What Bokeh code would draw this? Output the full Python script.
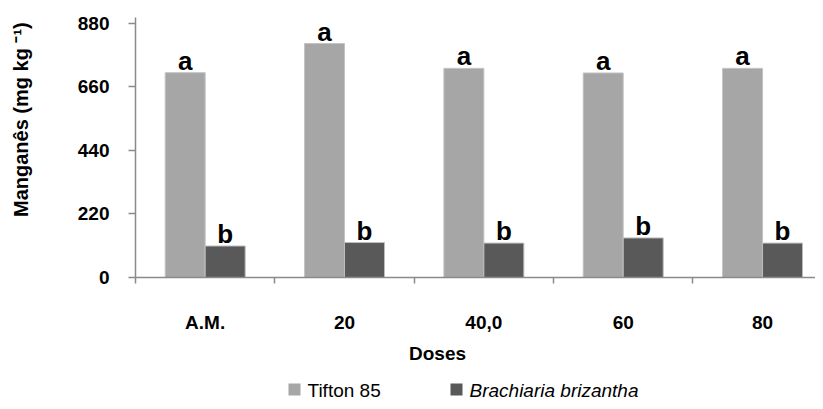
import numpy as np
from bokeh.plotting import figure
from bokeh.models import Range1d, FixedTicker, CustomJSTickFormatter
from bokeh.layouts import column, row
from bokeh.core.properties import value
from bokeh.embed import file_html
from bokeh.resources import INLINE

# ---- data ----
categories = ["A.M.", "20", "40,0", "60", "80"]
tifton = [709, 810, 724, 708, 724]
brachiaria = [109, 121, 119, 137, 119]
letters_tifton = ["a", "a", "a", "a", "a"]
letters_brach = ["b", "b", "b", "b", "b"]
y_ticks = [0, 220, 440, 660, 880]
series_names = ["Tifton 85", "Brachiaria brizantha"]
y_title = "Manganês  (mg kg ⁻¹)"
x_title = "Doses"

C_T = "#a6a6a6"
C_B = "#595959"
AX = "#8a8a8a"
FONT = "Liberation Sans"

n = len(categories)
idx = np.arange(n)
bw = 0.287
x_t = idx + 0.5 - bw / 2
x_b = idx + 0.5 + bw / 2

LEFT_W = 40
MAIN_W = 775
MAIN_H = 335
BOT_H = 66

# ---- y title strip ----
yl = figure(width=LEFT_W, height=MAIN_H, output_backend="svg", toolbar_location=None,
            x_range=Range1d(0, LEFT_W), y_range=Range1d(0, MAIN_H), min_border=0)
yl.axis.visible = False
yl.grid.visible = False
yl.outline_line_color = None
yl.text(x=[20], y=[MAIN_H - 128], text=[y_title], angle=np.pi / 2,
        text_align="center", text_baseline="middle", text_font=value(FONT),
        text_font_style="bold", text_font_size="20px", text_color="black")

# ---- main chart ----
p = figure(width=MAIN_W, height=MAIN_H, output_backend="svg", toolbar_location=None,
           x_range=Range1d(0, 4.88), y_range=Range1d(0, 900),
           min_border_left=95, min_border_right=0, min_border_top=17,
           min_border_bottom=56)
p.outline_line_color = None
p.xgrid.visible = False
p.ygrid.visible = False

p.vbar(x=x_t, top=tifton, width=bw, fill_color=C_T, line_color="#c4c4c4", line_width=1)
p.vbar(x=x_b, top=brachiaria, width=bw, fill_color=C_B, line_color="#bdbdbd", line_width=1)

p.text(x=x_t, y=tifton, text=letters_tifton, text_align="center",
       text_baseline="bottom", y_offset=3, text_font=value(FONT),
       text_font_style="bold", text_font_size="26px", text_color="black")
p.text(x=x_b, y=brachiaria, text=letters_brach, text_align="center",
       text_baseline="bottom", y_offset=3, text_font=value(FONT),
       text_font_style="bold", text_font_size="26px", text_color="black")

xa = p.xaxis[0]
xa.ticker = FixedTicker(ticks=list(idx + 0.5), minor_ticks=list(range(n + 1)))
xa.formatter = CustomJSTickFormatter(args=dict(cats=categories),
                                     code="return cats[Math.round(tick - 0.5)];")
xa.major_tick_out = 0
xa.major_tick_in = 0
xa.minor_tick_out = 6
xa.minor_tick_in = 0
xa.minor_tick_line_color = AX
xa.minor_tick_line_width = 1.5
xa.axis_line_color = AX
xa.axis_line_width = 1.5
xa.major_label_standoff = 28
xa.major_label_text_font = FONT
xa.major_label_text_font_style = "bold"
xa.major_label_text_font_size = "19px"
xa.major_label_text_color = "black"

ya = p.yaxis[0]
ya.ticker = FixedTicker(ticks=y_ticks, minor_ticks=[])
ya.major_tick_out = 7
ya.major_tick_in = 0
ya.major_tick_line_color = AX
ya.major_tick_line_width = 1.5
ya.minor_tick_line_color = None
ya.axis_line_color = AX
ya.axis_line_width = 1.5
ya.major_label_standoff = 19
ya.major_label_text_font = FONT
ya.major_label_text_font_style = "bold"
ya.major_label_text_font_size = "19px"
ya.major_label_text_color = "black"

# ---- bottom strip: x title and legend ----
W = LEFT_W + MAIN_W
bot = figure(width=W, height=BOT_H, output_backend="svg", toolbar_location=None,
             x_range=Range1d(0, W), y_range=Range1d(0, BOT_H), min_border=0)
bot.axis.visible = False
bot.grid.visible = False
bot.outline_line_color = None
bot.text(x=[437], y=[BOT_H - 18], text=[x_title], text_align="center",
         text_baseline="middle", text_font=value(FONT), text_font_style="bold",
         text_font_size="19px", text_color="black")
bot.rect(x=[294, 456], y=[12, 12], width=12, height=12, fill_color=[C_T, C_B],
         line_color=None)
bot.text(x=[307], y=[11], text=[series_names[0]], text_baseline="middle",
         text_font=value(FONT), text_font_size="19px", text_color="black")
bot.text(x=[469], y=[11], text=[series_names[1]], text_baseline="middle",
         text_font=value(FONT), text_font_style="italic", text_font_size="19px",
         text_color="black")

layout = column(row(yl, p, spacing=0), bot, spacing=0)
open("out.html", "w").write(file_html(layout, INLINE))
